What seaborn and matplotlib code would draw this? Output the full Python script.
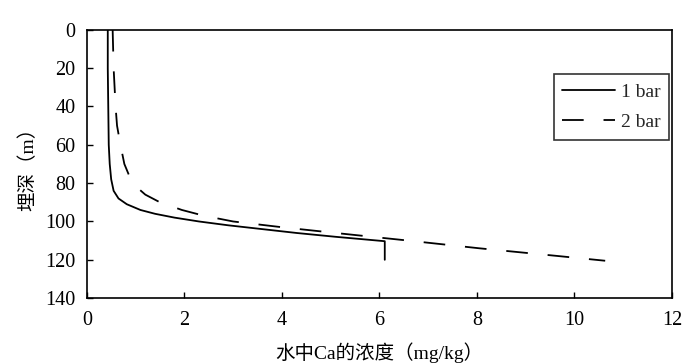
import matplotlib
matplotlib.use("Agg")
import matplotlib.pyplot as plt
import seaborn as sns
import pandas as pd

# Data
depth_1bar = [0, 20, 40, 60, 70, 78, 84, 88, 91, 94, 96, 98, 100, 102, 104, 106, 108, 110.3, 120]
conc_1bar = [0.43, 0.43, 0.44, 0.45, 0.47, 0.50, 0.55, 0.65, 0.82, 1.10, 1.40, 1.80, 2.30, 2.90, 3.60, 4.30, 5.10, 6.11, 6.11]

depth_2bar = [0, 20, 30, 40, 50, 60, 70, 78, 82, 86, 90, 94, 97, 100, 103, 106, 108, 110, 114, 118, 120.5]
conc_2bar = [0.53, 0.55, 0.57, 0.59, 0.62, 0.69, 0.77, 0.90, 1.02, 1.20, 1.50, 1.95, 2.40, 3.00, 4.00, 5.10, 5.85, 6.60, 8.05, 9.65, 10.63]

series_labels = ["1 bar", "2 bar"]
x_ticks = [0, 2, 4, 6, 8, 10, 12]
y_ticks = [0, 20, 40, 60, 80, 100, 120, 140]
x_label = "水中Ca的浓度（mg/kg）"
y_label = "埋深（m）"

sns.set_theme(style="white")
plt.rcParams["font.family"] = ["Liberation Serif", "Noto Sans CJK SC"]

fig = plt.figure(figsize=(7.0, 3.64), dpi=100)
ax = fig.add_axes([0.124, 0.181, 0.836, 0.737])

df1 = pd.DataFrame({"conc": conc_1bar, "depth": depth_1bar})
df2 = pd.DataFrame({"conc": conc_2bar, "depth": depth_2bar})

sns.lineplot(data=df1, x="conc", y="depth", sort=False, estimator=None,
             color="black", lw=1.3, ax=ax, label=series_labels[0])
sns.lineplot(data=df2, x="conc", y="depth", sort=False, estimator=None,
             color="black", lw=1.3, ax=ax, label=series_labels[1],
             dashes=False)
ax.lines[1].set_dashes([12, 11])

ax.set_xlim(0, 12)
ax.set_ylim(140, 0)
ax.set_xticks(x_ticks)
ax.set_yticks(y_ticks)
ax.tick_params(axis="both", direction="in", length=4, width=1, color="black",
               labelsize=14.5, labelcolor="black", bottom=True, left=True,
               top=False, right=False)
ax.tick_params(axis="x", pad=9)
ax.tick_params(axis="y", pad=8)
for sp in ax.spines.values():
    sp.set_color("black")
    sp.set_linewidth(1.2)

ax.set_xlabel(x_label, fontsize=14, color="black", labelpad=9)
ax.set_ylabel(y_label, fontsize=14, color="black", labelpad=6)

leg = ax.legend(loc="upper right", bbox_to_anchor=(0.995, 0.834), frameon=True,
                fancybox=False, edgecolor="black", fontsize=14,
                handlelength=2.7, handletextpad=0.3, borderpad=0.45,
                labelspacing=0.65, borderaxespad=0)
leg.get_frame().set_linewidth(1.2)
leg.legend_handles[1].set_dashes([12, 11])

fig.savefig("out.png", dpi=100, facecolor="white")
